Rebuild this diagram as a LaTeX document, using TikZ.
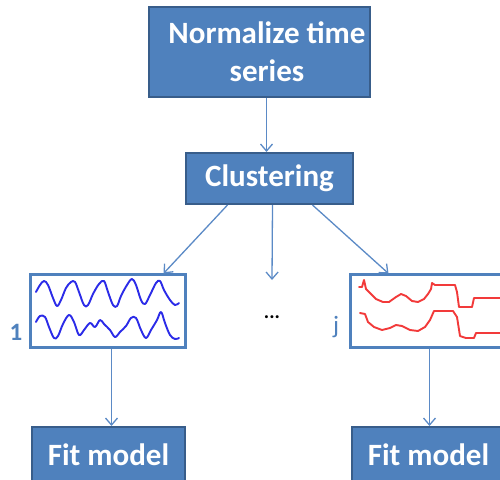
\documentclass[tikz,border=0pt]{standalone}
\usepackage{fontspec}
\setmainfont{Carlito}
\usetikzlibrary{arrows.meta}
\definecolor{boxfill}{HTML}{4F81BD}
\definecolor{boxedge}{HTML}{385D8A}
\definecolor{linkblue}{HTML}{5B8AC6}
\definecolor{waveblue}{HTML}{2B2BE8}
\definecolor{wavered}{HTML}{F23A3A}
\tikzset{
  stepbox/.style={draw=boxedge, line width=2pt, fill=boxfill, text=white,
    font=\bfseries\fontsize{31}{38}\selectfont, align=center, inner sep=0pt},
  panel/.style={draw=boxfill, line width=3pt, fill=white, inner sep=0pt},
  link/.style={draw=linkblue, line width=1.3pt, -{Straight Barb[length=7pt,width=12pt,line width=1.3pt]}},
  tag/.style={text=boxfill, font=\bfseries\fontsize{25}{28}\selectfont},
  wave/.style={line width=1.9pt, line join=round, line cap=round},
}
\begin{document}
\begin{tikzpicture}[x=1pt,y=-1pt]
\useasboundingbox (0,0) rectangle (500,479);
\clip (0,0) rectangle (500,479);

% process boxes
\node[stepbox, minimum width=221pt, minimum height=90pt] (norm) at (259.5,52)
  {\hspace*{15pt}Normalize time\\\hspace*{15pt}series};
\node[stepbox, minimum width=167pt, minimum height=51pt] (clus) at (269.5,178.5) {Clustering};

% cluster panels
\node[panel, minimum width=155pt, minimum height=73pt] (p1) at (107.5,310.5) {};
\node[panel, minimum width=155pt, minimum height=73pt] (pj) at (427.5,310.5) {};

\node[tag] (l1) at (16,332) {1};
\node[tag, font=\fontsize{25}{28}\selectfont] (lj) at (336,327) {j};
\node[font=\bfseries\fontsize{20}{24}\selectfont] (dots) at (272,317) {...};

% fitting boxes
\node[stepbox, minimum width=153pt, minimum height=56pt] (fit1) at (108.5,455) {Fit model};
\node[stepbox, minimum width=153pt, minimum height=56pt] (fitj) at (428.5,455) {Fit model};

% connectors
\draw[link] ([xshift=7pt]norm.south) -- ([xshift=-3pt]clus.north);
\draw[link] ([xshift=-42pt]clus.south) -- ([xshift=56pt,yshift=-1pt]p1.north);
\draw[link] ([xshift=3pt]clus.south) -- ([yshift=37pt]dots.center);
\draw[link] ([xshift=43pt]clus.south) -- ([xshift=-39pt,yshift=-1pt]pj.north);
\draw[link] ([xshift=4pt]p1.south) -- ([xshift=3pt]fit1.north);
\draw[link] ([xshift=2pt]pj.south) -- ([xshift=1pt]fitj.north);

% time series of cluster 1
\draw[wave, waveblue] plot[smooth, tension=0.6] coordinates {
  (36,292) (40,285) (44,281) (48,285) (53,298) (57,306) (61,300) (66,288) (71,282) (75,282)
  (79,292) (84,305) (88,305) (93,294) (99,284) (104,281) (108,292) (113,305) (117,306)
  (121,296) (127,285) (132,279) (136,285) (141,300) (145,304) (150,295) (156,283) (160,281)
  (164,290) (170,300) (175,305) (179,303)};
\draw[wave, waveblue] plot[smooth, tension=0.6] coordinates {
  (36,322) (40,316) (45,317) (49,327) (54,338) (58,336) (63,324) (69,315) (74,322)
  (79,335) (84,330) (90,323) (95,327) (100,320) (104,324) (110,330) (115,337) (120,332)
  (126,326) (131,318) (136,318) (141,330) (146,338) (151,330) (157,320) (161,312) (165,323)
  (170,335) (175,339) (179,338)};

% time series of cluster j
\draw[wave, wavered] (359,287) -- (362,287) -- (364,280) -- (366,289) -- (370,293)
  -- (376,299) -- (383,302) -- (389,302) -- (396,297) -- (401,294) -- (406,296)
  -- (412,301) -- (418,302) -- (424,299) -- (428,294) -- (431,289) -- (432,283) -- (435,285)
  -- (455,285) -- (457,292) -- (459,307) -- (472,307) -- (474,298) -- (500,298);
\draw[wave, wavered] (360,313) -- (365,314) -- (368,322) -- (374,327) -- (382,330)
  -- (390,328) -- (396,325) -- (402,326) -- (410,330) -- (418,331) -- (425,327) -- (430,320)
  -- (434,311) -- (453,311) -- (457,317) -- (460,336) -- (466,338) -- (474,338) -- (476,333)
  -- (500,333);
\end{tikzpicture}
\end{document}
